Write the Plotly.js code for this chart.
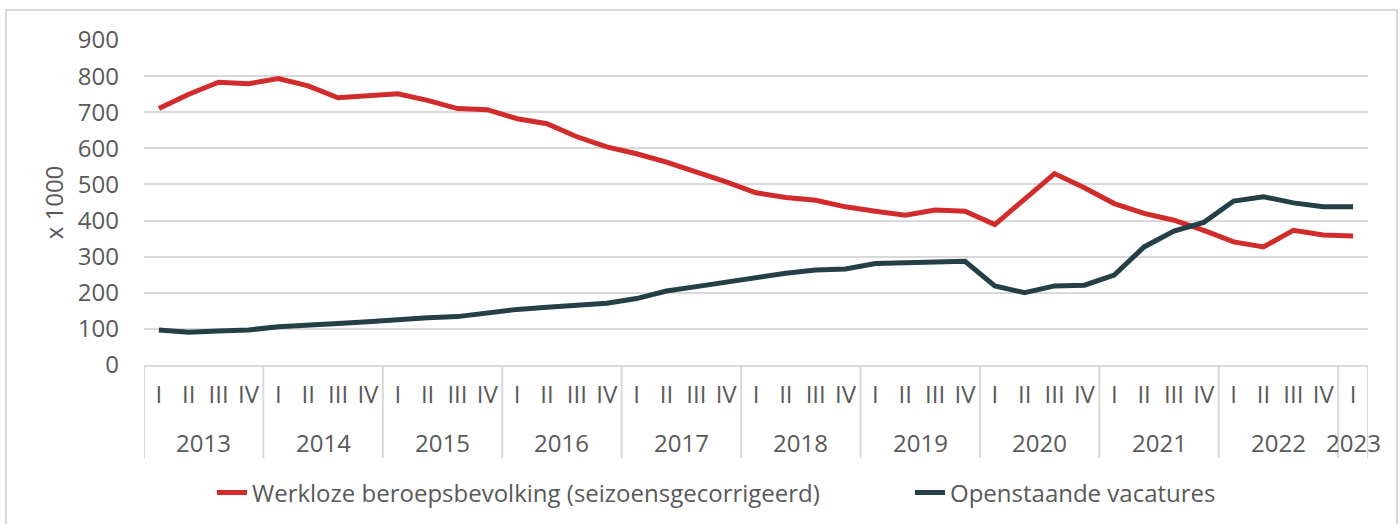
<!DOCTYPE html>
<html>
<head>
<meta charset="utf-8">
<script src="https://cdn.plot.ly/plotly-3.0.1.min.js"></script>
<style>
  html, body { margin: 0; padding: 0; background: #ffffff; }
  #chart { width: 1400px; height: 524px; }
</style>
</head>
<body>
<div id="chart"></div>
<script>
// ---- Data ----
const years = ['2013', '2014', '2015', '2016', '2017', '2018', '2019', '2020', '2021', '2022', '2023'];
const quarterNames = ['I', 'II', 'III', 'IV'];
const quartersPerYear = [4, 4, 4, 4, 4, 4, 4, 4, 4, 4, 1];

const seriesNames = ['Werkloze beroepsbevolking (seizoensgecorrigeerd)', 'Openstaande vacatures'];

// x 1000, one value per quarter (2013-I .. 2023-I)
const unemployed = [
  710, 750, 783, 779,
  793, 773, 740, 745,
  751, 733, 710, 707,
  682, 668, 632, 604,
  585, 562, 535, 507,
  477, 464, 456, 438,
  426, 415, 429, 426,
  389, 461, 530, 491,
  447, 420, 401, 373,
  341, 327, 373, 360,
  357
];
const vacancies = [
  97, 91, 94, 97,
  106, 109, 115, 120,
  126, 131, 134, 144,
  154, 160, 164, 171,
  184, 205, 217, 230,
  240, 254, 263, 266,
  281, 283, 284, 287,
  219, 200, 219, 221,
  249, 327, 371, 395,
  454, 466, 449, 438,
  438
];

const yTicks = [0, 100, 200, 300, 400, 500, 600, 700, 800, 900];

// ---- Derived category positions ----
const xIdx = [];
const qLabels = [];
const groupStart = [];
let k = 0;
quartersPerYear.forEach(function (n) {
  groupStart.push(k);
  for (let q = 0; q < n; q++) { xIdx.push(k); qLabels.push(quarterNames[q]); k++; }
});
const nCat = k;

// ---- Layout geometry helpers ----
const W = 1400, H = 524;
const M = { l: 144, r: 32, t: 40, b: 159 };
const plotH = H - M.t - M.b;
const plotW = W - M.l - M.r;
function pyToPaper(py) { return (H - M.b - py) / plotH; }
function pxToPaper(px) { return (px - M.l) / plotW; }

const gridColor = '#d9d9d9';
const textColor = '#595959';
const fontFamily = '"Open Sans", Lato, sans-serif';
const fs = 24;

// year labels and dividers
const annotations = years.map(function (yr, i) {
  const s = groupStart[i], n = quartersPerYear[i];
  return {
    x: s + (n - 1) / 2, xref: 'x',
    y: pyToPaper(442), yref: 'paper',
    text: yr, showarrow: false, xanchor: 'center', yanchor: 'middle',
    font: { size: fs, color: textColor, family: fontFamily }
  };
});

const shapes = [];
groupStart.concat([nCat]).forEach(function (s) {
  shapes.push({
    type: 'line', xref: 'x', yref: 'paper',
    x0: s - 0.5, x1: s - 0.5, y0: 0, y1: pyToPaper(458),
    line: { color: gridColor, width: 2 }
  });
});
// outer chart border
shapes.push({
  type: 'rect', xref: 'paper', yref: 'paper',
  x0: pxToPaper(6), x1: pxToPaper(1397), y0: pyToPaper(540), y1: pyToPaper(10),
  line: { color: gridColor, width: 2 }, fillcolor: 'rgba(0,0,0,0)', layer: 'below'
});

const traces = [
  {
    x: xIdx, y: unemployed, name: seriesNames[0], type: 'scatter', mode: 'lines',
    line: { color: '#d22b2b', width: 5 }, hoverinfo: 'y', legend: 'legend'
  },
  {
    x: xIdx, y: vacancies, name: seriesNames[1], type: 'scatter', mode: 'lines',
    line: { color: '#243f45', width: 5 }, hoverinfo: 'y', legend: 'legend2'
  }
];

function legendAt(px) {
  return {
    orientation: 'h', xref: 'container', yref: 'container',
    x: px / W, xanchor: 'left', y: (H - 493) / H, yanchor: 'middle',
    font: { size: fs, color: textColor, family: fontFamily },
    bgcolor: 'rgba(0,0,0,0)', borderwidth: 0
  };
}

const layout = {
  width: W, height: H,
  margin: M,
  paper_bgcolor: '#ffffff', plot_bgcolor: '#ffffff',
  font: { family: fontFamily, color: textColor, size: fs },
  showlegend: true,
  legend: legendAt(212),
  legend2: legendAt(910),
  xaxis: {
    range: [-0.5, nCat - 0.5], tickmode: 'array', tickvals: xIdx, ticktext: qLabels,
    showgrid: false, zeroline: false, showline: true, linecolor: gridColor, linewidth: 2,
    ticks: '', ticklabelstandoff: 7, tickfont: { size: fs, color: textColor }, fixedrange: true
  },
  yaxis: {
    range: [0, 900], tickmode: 'array', tickvals: yTicks,
    showgrid: true, gridcolor: gridColor, gridwidth: 2, zeroline: false, showline: false,
    ticks: '', ticklabelstandoff: 24, tickfont: { size: fs, color: textColor },
    title: { text: 'x 1000', standoff: 7, font: { size: fs, color: textColor } }, fixedrange: true
  },
  annotations: annotations,
  shapes: shapes
};

Plotly.newPlot('chart', traces, layout, { displayModeBar: false, staticPlot: true });
</script>
</body>
</html>
